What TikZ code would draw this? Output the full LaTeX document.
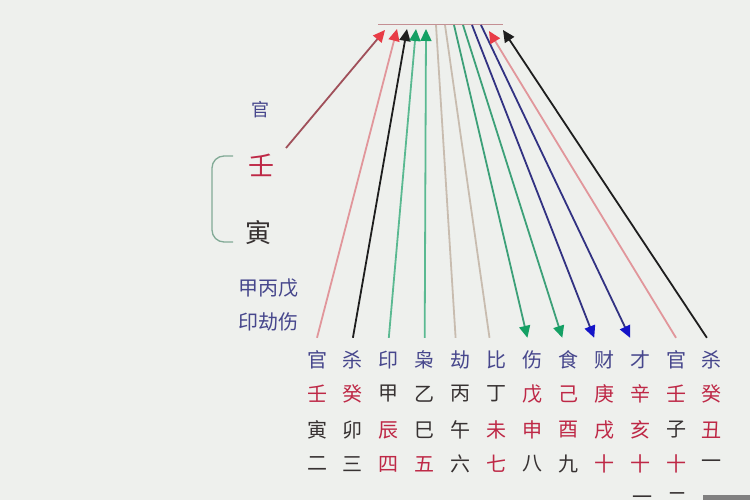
\documentclass[tikz,border=0pt]{standalone}
\usepackage{fontspec}
\newfontfamily\cjk{Noto Sans CJK SC}
\usetikzlibrary{arrows.meta}
\definecolor{bg}{RGB}{238,240,237}
\definecolor{lab}{RGB}{70,70,140}
\definecolor{rd}{RGB}{190,40,70}
\definecolor{dk}{RGB}{55,50,50}
\definecolor{redhead}{RGB}{232,60,70}
\definecolor{pinkline}{RGB}{225,150,155}
\definecolor{maroon}{RGB}{160,80,90}
\definecolor{blk}{RGB}{30,30,30}
\definecolor{lgreen}{RGB}{90,185,145}
\definecolor{ghead}{RGB}{20,160,100}
\definecolor{tan}{RGB}{200,188,175}
\definecolor{mgreen}{RGB}{60,160,120}
\definecolor{bline}{RGB}{50,50,130}
\definecolor{bhead}{RGB}{20,20,200}
\definecolor{brk}{RGB}{130,170,150}
\tikzset{
  cell/.style={font=\cjk\fontsize{20}{20}\selectfont, inner sep=0pt},
  labcell/.style={cell, text=lab, minimum height=44pt},
  side/.style={font=\cjk\fontsize{20}{20}\selectfont, inner sep=0pt},
  big/.style={font=\cjk\fontsize{26}{26}\selectfont, inner sep=0pt},
  conn/.style={line width=1.8pt},
  tip/.style={-{Triangle[length=12pt,width=11pt,color=#1,fill=#1]}},
}
\begin{document}
\begin{tikzpicture}[x=1pt,y=-1pt]
\clip (0,0) rectangle (750,500);
\fill[bg] (0,0) rectangle (750,500);
% top bar
\coordinate (barL) at (378,25);
\coordinate (barR) at (503,25);
\draw[pinkline!70!gray, line width=1pt] (barL) -- (barR);
% top coordinates
\coordinate (t0) at (385,30);
\coordinate (t1) at (397,29);
\coordinate (t2) at (407,29);
\coordinate (t3) at (416,29);
\coordinate (t4) at (426,29);
\coordinate (t5) at (436,25);
\coordinate (t6) at (445,25);
\coordinate (t7) at (454,25);
\coordinate (t8) at (463,25);
\coordinate (t9) at (472,25);
\coordinate (t10) at (481,25);
\coordinate (t11) at (489,31);
\coordinate (t12) at (503,30);
% grid
\foreach \t [count=\i from 0] in {官,杀,印,枭,劫,比,伤,食,财,才,官,杀}
  \node[labcell] (l\i) at (317+35.9*\i,360) {\t};
\foreach \t/\c [count=\i from 0] in {壬/rd,癸/rd,甲/dk,乙/dk,丙/dk,丁/dk,戊/rd,己/rd,庚/rd,辛/rd,壬/rd,癸/rd}
  \node[cell,text=\c] (s\i) at (317+35.9*\i,394) {\t};
\foreach \t/\c [count=\i from 0] in {寅/dk,卯/dk,辰/rd,巳/dk,午/dk,未/rd,申/rd,酉/rd,戌/rd,亥/rd,子/dk,丑/rd}
  \node[cell,text=\c] (b\i) at (317+35.9*\i,430) {\t};
\foreach \t/\c [count=\i from 0] in {二/dk,三/dk,四/rd,五/rd,六/dk,七/rd,八/dk,九/dk,十/rd,十/rd,十/rd,一/dk}
  \node[cell,text=\c] (n\i) at (317+35.9*\i,464) {\t};
\node[cell,text=dk] (m9) at (642,500) {一};
\node[cell,text=dk] (m10) at (677,500) {二};
% left side
\node[side,text=lab,font=\cjk\fontsize{18}{18}\selectfont] (guan) at (260,110) {官};
\node[big,text=rd] (ren) at (261,165) {壬};
\node[big,text=dk] (yin) at (258,233) {寅};
\node[side,text=lab] (jbw) at (268,288) {甲丙戊};
\node[side,text=lab] (yjs) at (268,322) {印劫伤};
\draw[brk, line width=1.3pt, rounded corners=12pt] (233,156) -- (212,156) -- (212,242) -- (233,242);
% connectors
\coordinate (renend) at (286,148);
\draw[conn, maroon, tip=redhead] (renend) -- (t0);
\draw[conn, pinkline, tip=redhead] (l0.north) -- (t1);
\draw[conn, blk, tip=blk] (l1.north) -- (t2);
\draw[conn, lgreen, tip=ghead] (l2.north) -- (t3);
\draw[conn, lgreen, tip=ghead] (l3.north) -- (t4);
\draw[conn, tan] ([xshift=-5pt]l4.north) -- (t5);
\draw[conn, tan] ([xshift=-7pt]l5.north) -- (t6);
\draw[conn, mgreen, tip=ghead] (t7) -- ([xshift=-5pt]l6.north);
\draw[conn, mgreen, tip=ghead] (t8) -- ([xshift=-6pt]l7.north);
\draw[conn, bline, tip=bhead] (t9) -- ([xshift=-10pt]l8.north);
\draw[conn, bline, tip=bhead] (t10) -- ([xshift=-10pt]l9.north);
\draw[conn, pinkline, tip=redhead] (l10.north) -- (t11);
\draw[conn, blk, tip=blk] ([xshift=-5pt]l11.north) -- (t12);
% corner mark
\fill[gray] (703,495) rectangle (750,500);
\end{tikzpicture}
\end{document}
